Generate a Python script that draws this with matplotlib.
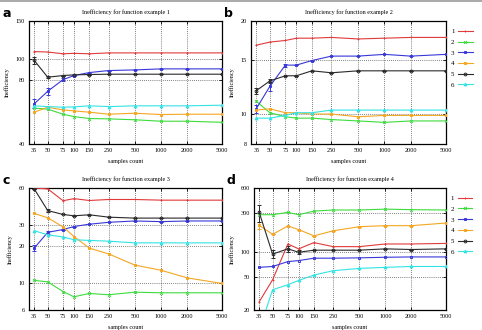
import matplotlib
matplotlib.use("Agg")
import matplotlib.pyplot as plt
from matplotlib.ticker import FixedLocator, FixedFormatter, NullLocator
from matplotlib.lines import Line2D
import numpy as np

samples = [35, 50, 75, 100, 150, 250, 500, 1000, 2000, 5000]
series_labels = ["1", "2", "3", "4", "5", "6"]

# Panel a
a_s1 = [108, 107.5, 105.5, 106, 105.5, 106.5, 106.5, 106.5, 106.5, 106.5]
a_s2 = [58.8, 58.2, 55.1, 53.7, 52.6, 52.4, 51.9, 51.1, 51.1, 50.5]
a_s3 = [61.6, 70.5, 79.9, 83.5, 86.2, 88.1, 88.7, 89.7, 89.7, 89.7]
a_s4 = [56.3, 59.4, 57.7, 57.1, 56.3, 55.1, 55.7, 54.9, 55.1, 55.1]
a_s5 = [98.2, 82.0, 83.5, 84.1, 84.4, 84.7, 84.7, 84.7, 84.7, 84.7]
a_s6 = [60.3, 59.8, 59.4, 59.6, 60.3, 59.8, 60.3, 60.3, 60.3, 60.7]
a_err3 = [3, 2.5, 1.5, 0, 0, 0, 0, 0, 0, 0]
a_err5 = [4, 1, 0, 0, 0, 0, 0, 0, 0, 0]

# Panel b
b_s1 = [16.7, 17.1, 17.3, 17.6, 17.6, 17.7, 17.5, 17.6, 17.7, 17.7]
b_s2 = [11.0, 10.1, 9.8, 9.7, 9.7, 9.6, 9.5, 9.4, 9.5, 9.5]
b_s3 = [10.4, 12.3, 14.4, 14.4, 14.9, 15.4, 15.4, 15.6, 15.4, 15.6]
b_s4 = [10.3, 10.4, 10.1, 10.1, 10.0, 10.0, 9.8, 9.9, 9.9, 9.9]
b_s5 = [11.9, 12.8, 13.3, 13.3, 13.8, 13.6, 13.8, 13.8, 13.8, 13.8]
b_s6 = [9.7, 9.7, 9.9, 10.1, 10.1, 10.3, 10.3, 10.3, 10.3, 10.3]
b_err3 = [0.3, 0.4, 0.15, 0, 0, 0, 0, 0, 0, 0]
b_err5 = [0.25, 0.15, 0, 0, 0, 0, 0, 0, 0, 0]

# Panel c
c_s1 = [60, 59, 47.2, 49.1, 47.4, 48.3, 48.3, 47.7, 47.7, 47.7]
c_s2 = [10.5, 10.2, 8.5, 7.7, 8.2, 8.0, 8.4, 8.3, 8.3, 8.3]
c_s3 = [19.3, 26.0, 27.4, 29.0, 30.3, 31.4, 32.2, 31.8, 32.2, 32.2]
c_s4 = [37.1, 34.2, 28.8, 24.0, 19.3, 17.3, 14.0, 12.7, 11.0, 9.9]
c_s5 = [59, 39.2, 36.4, 35.5, 36.2, 34.6, 34.0, 34.0, 34.0, 34.0]
c_s6 = [26.8, 24.8, 23.8, 22.6, 22.3, 22.0, 21.3, 21.3, 21.3, 21.3]
c_err3 = [1.2, 0.6, 0, 0, 0, 0, 0, 0, 0, 0]
c_err5 = [0, 1.0, 0, 0, 0, 0, 0, 0, 0, 0]

# Panel d
d_s1 = [25.1, 46.5, 126, 110, 131, 117, 117, 126, 126, 128]
d_s2 = [285, 285, 304, 285, 315, 325, 325, 333, 328, 325]
d_s3 = [65.7, 67.3, 77.1, 79.3, 84.8, 84.8, 85.6, 87, 87.8, 87.8]
d_s4 = [212, 165, 208, 188, 158, 182, 204, 210, 210, 226]
d_s5 = [304, 95.1, 110, 100, 106, 106, 106, 110, 108, 110]
d_s6 = [11.3, 35.2, 40.4, 45.6, 53.0, 59.8, 63.8, 65.7, 67.3, 67.3]
d_err5 = [70, 10, 8, 6, 0, 0, 0, 0, 0, 0]
d_err4 = [20, 0, 0, 0, 0, 0, 0, 0, 0, 0]

colors = ["#e03a3a", "#3ddc3d", "#3838d8", "#f5a623", "#2a2a2a", "#33e3e3"]
markers = ["+", "x", "s", "s", "o", "^"]
mfaces = [None, None, "none", None, "none", None]

panels = [
    ("a", "Inefficiency for function example 1", [a_s1, a_s2, a_s3, a_s4, a_s5, a_s6],
     {2: a_err3, 4: a_err5}, (40, 150), [40, 80, 100, 150], [0.0602, 0.5636, 0.4004, 0.3727], False),
    ("b", "Inefficiency for function example 2", [b_s1, b_s2, b_s3, b_s4, b_s5, b_s6],
     {2: b_err3, 4: b_err5}, (8, 20), [8, 10, 15, 20], [0.5207, 0.5636, 0.4046, 0.3727], True),
    ("c", "Inefficiency for function example 3", [c_s1, c_s2, c_s3, c_s4, c_s5, c_s6],
     {2: c_err3, 4: c_err5}, (6, 60), [6, 10, 20, 30, 60], [0.0602, 0.0606, 0.4004, 0.3697], False),
    ("d", "Inefficiency for function example 4", [d_s1, d_s2, d_s3, d_s4, d_s5, d_s6],
     {3: d_err4, 4: d_err5}, (20, 600), [20, 50, 100, 300, 600], [0.527, 0.0606, 0.398, 0.3697], True),
]

plt.rcParams["font.family"] = ["Liberation Serif", "DejaVu Serif"]
fig = plt.figure(figsize=(4.82, 3.30), dpi=100)
fig.add_artist(Line2D([0, 1], [0.997, 0.997], color="#999999", lw=1.2, transform=fig.transFigure))

fs = 4.4
for letter, title, data, errs, ylim, yticks, pos, legend in panels:
    ax = fig.add_axes(pos)
    ax.set_xscale("log")
    ax.set_yscale("log")
    for i, ys in enumerate(data):
        yerr = errs.get(i)
        ax.errorbar(samples, ys, yerr=yerr, color=colors[i], marker=markers[i],
                    markersize=2.0, markeredgewidth=0.7, lw=0.8, elinewidth=0.7, capsize=1.2,
                    markerfacecolor=mfaces[i] if mfaces[i] else colors[i], zorder=3)
    ax.set_xlim(30.5, 5000)
    ax.set_ylim(*ylim)
    ax.xaxis.set_major_locator(FixedLocator(samples))
    ax.xaxis.set_major_formatter(FixedFormatter([str(s) for s in samples]))
    ax.xaxis.set_minor_locator(NullLocator())
    ax.yaxis.set_major_locator(FixedLocator(yticks))
    ax.yaxis.set_major_formatter(FixedFormatter([str(t) for t in yticks]))
    ax.yaxis.set_minor_locator(NullLocator())
    ax.tick_params(axis="both", which="major", direction="in", length=2.5, width=0.6,
                   labelsize=fs, top=True, right=True, pad=3)
    ax.grid(True, which="major", color="black", linestyle=(0, (1.2, 1.8)), lw=0.5, alpha=0.8)
    for sp in ax.spines.values():
        sp.set_linewidth(0.9)
    ax.set_title(title, fontsize=fs, pad=5)
    ax.set_xlabel("samples count", fontsize=fs, labelpad=4)
    ax.set_ylabel("Inefficiency", fontsize=fs, labelpad=4)
    fig.text(pos[0] - 0.047, pos[1] + pos[3] + 0.024, letter, fontsize=9, fontweight="bold",
             family="DejaVu Sans", ha="center", va="center")
    if legend:
        handles = [Line2D([], [], color=colors[i], marker=markers[i], markersize=2.0,
                          markeredgewidth=0.7, lw=0.8,
                          markerfacecolor=mfaces[i] if mfaces[i] else colors[i])
                   for i in range(6)]
        ax.legend(handles, series_labels, loc="upper left", bbox_to_anchor=(1.025, 0.94),
                  frameon=False, fontsize=fs + 0.6, markerfirst=False, handlelength=2.1,
                  handletextpad=0.5, labelspacing=0.7, borderpad=0, borderaxespad=0)

fig.savefig("out.png", dpi=100)
